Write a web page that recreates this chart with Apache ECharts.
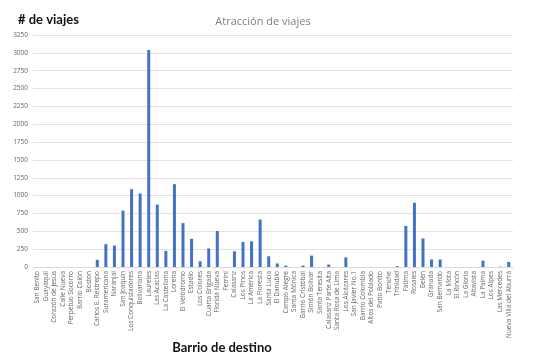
<!DOCTYPE html>
<html>
<head>
<meta charset="utf-8">
<script src="https://cdn.jsdelivr.net/npm/echarts@6/dist/echarts.min.js"></script>
<style>
  html, body { margin: 0; padding: 0; background: #fff; }
  #chart { width: 533px; height: 355px; }
</style>
</head>
<body>
<div id="chart"></div>
<script>
const barrios = ['San Benito', 'Guayaquil', 'Corazón de Jesús', 'Calle Nueva', 'Perpetuo Socorro',
  'Barrio Colón', 'Boston', 'Carlos E. Restrepo', 'Suramericana', 'Naranjal', 'San Joaquín',
  'Los Conquistadores', 'Bolivariana', 'Laureles', 'Las Acacias', 'La Castellana', 'Lorena',
  'El Velódromo', 'Estadio', 'Los Colores', 'Cuarta Brigada', 'Florida Nueva', 'Ferrini',
  'Calasanz', 'Los Pinos', 'La América', 'La Floresta', 'Santa Lucía', 'El Danubio',
  'Campo Alegre', 'Santa Mónica', 'Barrio Cristóbal', 'Simón Bolívar', 'Santa Teresita',
  'Calasanz Parte Alta', 'Santa Rosa de Lima', 'Los Alcázares', 'San Javier No.1',
  'Barrio Colombia', 'Altos del Poblado', 'Patio Bonito', 'Tenche', 'Trinidad', 'Fátima',
  'Rosales', 'Belén', 'Granada', 'San Bernardo', 'La Mota', 'El Rincón', 'La Gloria',
  'Altavista', 'La Palma', 'Los Alpes', 'Las Mercedes', 'Nueva Villa del Aburrá'];

// número de viajes atraídos por barrio
const viajes = [0, 0, 0, 0, 0,
  0, 0, 100, 320, 300, 790,
  1090, 1030, 3040, 875, 225, 1160,
  615, 395, 80, 260, 505, 0,
  220, 350, 360, 665, 150, 50,
  20, 0, 20, 160, 0,
  35, 0, 135, 0,
  0, 0, 0, 0, 12, 575,
  900, 400, 105, 105, 0, 0, 0,
  0, 90, 0, 5, 70];

const yTicks = { min: 0, max: 3250, interval: 250 };

const chart = echarts.init(document.getElementById('chart'));

chart.setOption({
  animation: false,
  backgroundColor: '#fff',
  textStyle: { fontFamily: 'Open Sans, sans-serif' },
  title: [
    {
      text: 'Atracción de viajes',
      left: 258, top: 11, textAlign: 'center',
      textStyle: { fontSize: 11, fontWeight: 'normal', color: '#7f7f7f' }
    },
    {
      text: '# de viajes',
      left: 13, top: 8,
      textStyle: { fontSize: 13, fontWeight: 'bold', color: '#111', fontFamily: 'Lato, sans-serif' }
    },
    {
      text: 'Barrio de destino',
      left: 217, top: 336, textAlign: 'center',
      textStyle: { fontSize: 13, fontWeight: 'bold', color: '#111', fontFamily: 'Lato, sans-serif' }
    }
  ],
  grid: { left: 33, right: 20, top: 35, bottom: 88 },
  xAxis: {
    type: 'category',
    data: barrios,
    axisLine: { lineStyle: { color: '#d9d9d9' } },
    axisTick: { show: false },
    axisLabel: {
      interval: 0, rotate: 90, fontSize: 6.5, color: '#666', margin: 4
    }
  },
  yAxis: {
    type: 'value',
    min: yTicks.min, max: yTicks.max, interval: yTicks.interval,
    axisLabel: { fontSize: 6.5, color: '#666', margin: 5, formatter: v => String(v) },
    splitLine: { lineStyle: { color: '#e3e3e3', width: 1 } },
    axisLine: { show: false },
    axisTick: { show: false }
  },
  series: [{
    name: 'Viajes',
    type: 'bar',
    data: viajes,
    barWidth: 3,
    itemStyle: { color: '#4472c4' }
  }]
});
</script>
</body>
</html>
